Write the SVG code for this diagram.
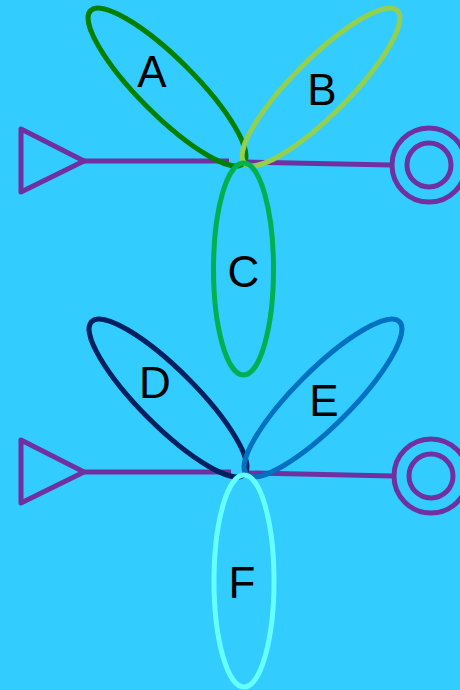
<svg xmlns="http://www.w3.org/2000/svg" width="460" height="690" viewBox="0 0 460 690">
<style>
.w{fill:none;stroke:#7030A0;stroke-width:5;stroke-linejoin:round}
.e{fill:none;stroke-width:5}
.t{font-family:"Liberation Sans",Arial,sans-serif;font-size:44px;fill:#000;text-anchor:middle}
</style>
<rect width="460" height="690" fill="#33CCFF"/>
<g id="connectors">
<line class="w" x1="84" y1="161" x2="229" y2="161"/>
<line class="w" x1="245" y1="162" x2="391" y2="165"/>
<line class="w" x1="84" y1="472" x2="231" y2="472"/>
<line class="w" x1="248" y1="473" x2="393" y2="476"/>
</g>
<g id="in1"><polygon class="w" points="21,129 21,192 84,161"/></g>
<g id="out1"><circle class="w" cx="429" cy="165" r="37"/><circle class="w" cx="429" cy="165" r="22"/></g>
<g id="in2"><polygon class="w" points="21,440 21,503 84,472"/></g>
<g id="out2"><circle class="w" cx="431" cy="476" r="37"/><circle class="w" cx="431" cy="476" r="22"/></g>
<g id="A"><ellipse class="e" stroke="#008000" cx="167" cy="87" rx="108" ry="28" transform="rotate(45 167 87)"/><text class="t" x="152" y="87">A</text></g>
<g id="B"><ellipse class="e" stroke="#92D050" cx="321" cy="87" rx="108" ry="28" transform="rotate(-45 321 87)"/><text class="t" x="322" y="105">B</text></g>
<g id="C"><ellipse class="e" stroke="#00B050" cx="243.5" cy="269" rx="30" ry="106"/><text class="t" x="243.5" y="287">C</text></g>
<g id="D"><ellipse class="e" stroke="#002060" cx="168" cy="398" rx="108" ry="28" transform="rotate(45 168 398)"/><text class="t" x="155" y="398">D</text></g>
<g id="E"><ellipse class="e" stroke="#0070C0" cx="323" cy="398" rx="108" ry="28" transform="rotate(-45 323 398)"/><text class="t" x="324" y="416">E</text></g>
<g id="F"><ellipse class="e" stroke="#66FFFF" cx="244" cy="581" rx="30" ry="106"/><text class="t" x="242" y="598">F</text></g>
</svg>
